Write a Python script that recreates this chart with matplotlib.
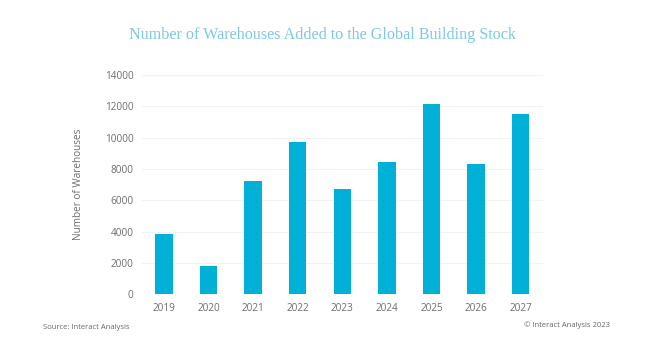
import matplotlib.pyplot as plt

years = ['2019', '2020', '2021', '2022', '2023', '2024', '2025', '2026', '2027']
warehouses = [3830, 1830, 7230, 9740, 6740, 8460, 12160, 8330, 11490]

plt.rcParams['font.family'] = ['Open Sans', 'DejaVu Sans']

fig = plt.figure(figsize=(6.45, 3.5), dpi=100)
ax = fig.add_axes([0.2197, 0.159, 0.622, 0.627])

ax.bar(range(len(years)), warehouses, width=0.39, color='#00b0d6', zorder=3)
ax.set_xlim(-0.5, len(years) - 0.5)
ax.set_ylim(0, 14000)
ax.set_yticks(range(0, 14001, 2000))
ax.set_xticks(range(len(years)))
ax.set_xticklabels(years)
ax.grid(axis='y', color='#f2f2f2', linewidth=0.8, zorder=0)
for s in ax.spines.values():
    s.set_visible(False)
ax.tick_params(length=0, labelsize=7.2, colors='#6e6e6e', pad=6)
ax.set_ylabel('Number of Warehouses', fontsize=7.2, color='#6e6e6e', labelpad=15)

fig.text(0.5, 0.9, 'Number of Warehouses Added to the Global Building Stock',
         ha='center', va='center', fontsize=11.6, color='#7ec8e3',
         family=['Liberation Serif', 'DejaVu Serif'])
fig.text(0.066, 0.065, 'Source: Interact Analysis', fontsize=5.5, color='#666666', va='center')
fig.text(0.945, 0.072, '© Interact Analysis 2023', fontsize=5.5, color='#666666',
         va='center', ha='right')

fig.savefig('out.png', dpi=100, facecolor='white')
